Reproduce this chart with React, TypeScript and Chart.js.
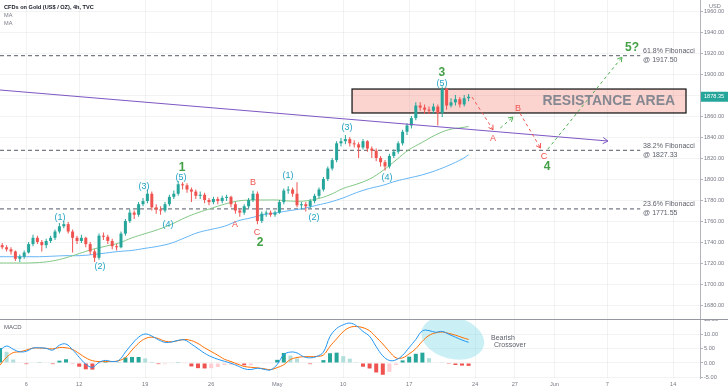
import React, { useEffect, useRef } from 'react';
import { Chart, registerables } from 'chart.js';
Chart.register(...registerables);

// ---------------- DATA ----------------
const TITLE = 'CFDs on Gold (US$ / OZ), 4h, TVC';

// 8h candles, first at Apr 1 (trading-day index 0)
const opens = [1737,1735,1733,1731,1724,1726,1730,1738,1744,1740,
 1737,1741,1744,1750,1755,1757,1750,1744,1741,1744,
 1738,1731,1725,1746,1745,1741,1736,1735,1748,1760,
 1768,1766,1776,1779,1786,1773,1771,1770,1776,1783,
 1786,1795,1794,1790,1788,1784,1785,1780,1778,1781,
 1779,1782,1783,1776,1770,1768,1774,1780,1786,1760,
 1767,1768,1766,1768,1778,1789,1790,1786,1775,1776,
 1774,1779,1784,1790,1800,1810,1818,1834,1836,1838,
 1834,1833,1830,1836,1829,1827,1820,1816,1812,1822,
 1826,1834,1845,1851,1858,1870,1868,1866,1865,1869,
 1863,1886,1870,1873,1876,1871,1877];
const closes = [1735,1733,1731,1724,1726,1730,1738,1744,1740,1737,
 1741,1744,1750,1755,1757,1750,1744,1741,1744,1738,
 1731,1725,1746,1745,1741,1736,1735,1748,1760,1768,
 1766,1776,1779,1786,1773,1771,1770,1776,1783,1786,
 1795,1794,1790,1788,1784,1785,1780,1778,1781,1779,
 1782,1783,1776,1770,1768,1774,1780,1786,1760,1767,
 1768,1766,1768,1778,1789,1790,1786,1775,1776,1774,
 1779,1784,1790,1800,1810,1818,1834,1836,1838,1834,
 1833,1830,1836,1829,1827,1820,1816,1812,1822,1826,
 1834,1845,1851,1858,1870,1868,1866,1865,1869,1863,
 1886,1870,1873,1876,1871,1877,1878.35];
const highs = [1739,1737,1735,1732,1728,1732,1740,1747,1746,1742,
 1743,1746,1752,1758,1760,1759,1752,1746,1747,1745,
 1740,1733,1748,1749,1747,1743,1738,1750,1762,1771,
 1770,1778,1782,1790,1788,1776,1774,1778,1785,1789,
 1798,1797,1796,1792,1790,1788,1787,1782,1783,1783,
 1784,1785,1784,1778,1772,1776,1782,1789,1788,1769,
 1770,1770,1770,1780,1791,1793,1792,1797,1778,1778,
 1781,1786,1792,1802,1812,1820,1836,1839,1842,1840,
 1837,1835,1838,1837,1831,1829,1822,1818,1824,1828,
 1836,1847,1853,1860,1873,1873,1871,1869,1872,1871,
 1888,1887,1877,1880,1878,1880,1881];
const lows = [1733,1731,1728,1722,1721,1724,1729,1736,1738,1731,
 1734,1739,1742,1748,1753,1748,1730,1738,1739,1735,
 1728,1721,1723,1742,1738,1733,1732,1734,1746,1758,
 1762,1764,1774,1777,1770,1767,1766,1768,1774,1781,
 1784,1790,1787,1778,1781,1781,1777,1775,1776,1776,
 1777,1779,1773,1767,1764,1766,1772,1778,1757,1758,
 1764,1764,1764,1767,1776,1786,1783,1773,1771,1769,
 1772,1777,1782,1788,1798,1808,1816,1831,1833,1831,
 1830,1820,1828,1826,1820,1817,1812,1808,1810,1820,
 1824,1832,1842,1848,1856,1865,1862,1862,1862,1851,
 1859,1866,1868,1870,1868,1869,1874];

// moving averages, one value per trading day (+ last half day)
const maFast = [1720,1720,1720,1720.5,1722,1725,1729,1733,1736,1739,
 1744,1748,1752,1757,1763,1768,1772,1776,1779,1780,
 1780,1780,1779,1779,1781,1785,1791,1795,1800,1808,
 1818,1828,1835,1842,1847,1849,1850];
const maSlow = [1726,1726,1726,1726,1726.5,1727,1727,1728,1729.5,1731,
 1732,1734,1736,1739,1744,1749,1752,1755,1760,1763,
 1766,1768,1770,1772,1775,1778,1782,1787,1791,1794,
 1798,1801,1804,1808,1813,1819,1823];

// MACD, one value per half trading day
const macdLine = [4.5,5.9,4.8,3.9,4.1,5.2,5.3,5.1,4.5,6.2,
 6.6,4.6,2.0,-0.4,-1.5,0.2,0.9,0.5,0.9,3.8,
 6.6,9.0,10.1,9.4,8.1,7.2,7.3,7.9,8.0,6.6,
 5.0,3.4,2.2,1.3,0.6,-0.1,-1.0,-2.0,-2.3,-1.8,
 -2.2,-2.4,-0.5,2.9,3.8,3.5,2.2,1.8,2.3,3.8,
 9.2,12.0,13.3,13.9,13.0,11.0,9.3,5.7,2.5,0.9,
 1.1,2.7,5.4,8.2,11.2,11.3,10.7,11.0,10.0,9.0,
 8.0,7.2];
const signalLine = [-0.7,2.0,3.6,3.9,4.5,5.2,5.2,5.1,4.9,5.4,
 5.3,4.7,3.3,1.8,0.8,0.5,0.5,0.5,0.8,1.9,
 4.5,6.9,8.5,9.0,8.5,7.6,7.4,7.8,8.2,7.8,
 6.8,5.3,4.0,2.7,1.3,0.5,-0.4,-1.2,-1.5,-1.7,
 -2.0,-2.3,-1.6,-0.6,1.2,1.9,2.2,2.2,2.3,2.8,
 5.8,8.4,10.9,12.4,12.7,12.3,11.2,9.0,6.6,4.0,
 1.8,1.8,3.2,5.0,7.6,9.6,10.5,10.8,10.3,9.7,
 8.9,8.2];

const priceTicks = [1680,1700,1720,1740,1760,1780,1800,1820,1840,1860,1880,1900,1920,1940,1960];
const macdTicks = [-5,0,5,10,15];
const dateTickDays = [2,6,11,16,21,26,31,36,39,42,46,51];
const dateTickLabels = ['6','12','19','26','May','10','17','24','27','Jun','7','14'];

const fibLevels = [1917.5, 1827.33, 1771.55];
const fibNames = ['61.8% Fibonacci','38.2% Fibonacci','23.6% Fibonacci'];
const fibValueLabels = ['@ 1917.50','@ 1827.33','@ 1771.55'];
const lastPrice = 1878.35;

const resistanceDays = [26.67, 51.97];
const resistancePrices = [1862.9, 1885.7];
const resistanceTextPos = [46.12, 1874.3];
const trendDays = [0, 46.06];
const trendPrices = [1884.8, 1836.2];

const minorLabels = ['(1)','(2)','(3)','(4)','(5)','(1)','(2)','(3)','(4)','(5)'];
const minorDays = [4.55,7.58,10.91,12.73,13.71,21.82,23.79,26.29,29.32,33.48];
const minorPrices = [1762.9,1716.2,1793.3,1756.2,1801,1802.9,1763.8,1848.6,1801.9,1891.4];
const majorLabels = ['1','2','3','4','5?'];
const majorDays = [13.79,19.7,33.48,41.44,47.88];
const majorPrices = [1810.5,1739,1901,1811.4,1924.8];
const abcLabels = ['A','B','C','A','B','C'];
const abcDays = [17.8,19.17,19.47,37.35,39.24,41.21];
const abcPrices = [1757.1,1796.2,1749.5,1838.1,1867.6,1821];

const projRedA = [[35.76,1878],[37.35,1847]];
const projGreenB = [[37.9,1848.5],[38.86,1859]];
const projRedC = [[39.4,1862.5],[40.95,1829.5]];
const projGreen5 = [[41.5,1828.5],[47.12,1916]];

const ellipseCenter = [34.3, 8.7];
const ellipseRadius = [2.42, 7.3];

// ---------------- STYLE ----------------
const FONT = '"Liberation Sans", Arial, sans-serif';
const UP = '#26a69a';
const DOWN = '#ef5350';
const GRID = 'rgba(42,46,57,0.06)';
const AXIS = '#b2b5be';
const TXT = '#787b86';
const X_MAX = 700 / 13.2;

const barDays = closes.map((_, i) => (i + 0.5) / 3);
const maDays = maFast.map((_, i) => (i < 36 ? i : 35.5));
const macdDays = macdLine.map((_, i) => i * 0.5);
const hist = macdLine.map((m, i) => +(m - signalLine[i]).toFixed(2));
const histColors = hist.map((h, i) => {
  const prev = i > 0 ? hist[i - 1] : h;
  if (h >= 0) return h >= prev ? '#26a69a' : '#b2dfdb';
  return h < prev ? '#ef5350' : '#ffcdd2';
});
const candleColors = closes.map((c, i) => (c >= opens[i] ? UP : DOWN));

function text(ctx: CanvasRenderingContext2D, s: string, x: number, y: number, font: string, color: string, align: CanvasTextAlign = 'center') {
  ctx.save();
  ctx.font = font;
  ctx.fillStyle = color;
  ctx.textAlign = align;
  ctx.textBaseline = 'middle';
  ctx.fillText(s, x, y);
  ctx.restore();
}

function chevron(ctx: CanvasRenderingContext2D, x1: number, y1: number, x2: number, y2: number, size: number, color: string) {
  const a = Math.atan2(y2 - y1, x2 - x1);
  ctx.save();
  ctx.strokeStyle = color;
  ctx.lineWidth = 1;
  ctx.setLineDash([]);
  ctx.beginPath();
  ctx.moveTo(x2 - size * Math.cos(a - 0.55), y2 - size * Math.sin(a - 0.55));
  ctx.lineTo(x2, y2);
  ctx.lineTo(x2 - size * Math.cos(a + 0.55), y2 - size * Math.sin(a + 0.55));
  ctx.stroke();
  ctx.restore();
}

const lineDs = (pts: number[][], color: string, dash: number[], order: number, width = 1) => ({
  type: 'line' as const,
  data: pts.map(p => ({ x: p[0], y: p[1] })),
  borderColor: color,
  borderWidth: width,
  borderDash: dash,
  pointRadius: 0,
  fill: false,
  order,
});

export default function App() {
  const mainRef = useRef<HTMLCanvasElement>(null);
  const macdRef = useRef<HTMLCanvasElement>(null);

  useEffect(() => {
    Chart.defaults.font.family = FONT;

    const mainPlugin = {
      id: 'mainDeco',
      beforeDatasetsDraw(chart: any) {
        const { ctx, scales: { x, y } } = chart;
        const x0 = x.getPixelForValue(resistanceDays[0]);
        const x1 = x.getPixelForValue(resistanceDays[1]);
        const y0 = y.getPixelForValue(resistancePrices[1]);
        const y1 = y.getPixelForValue(resistancePrices[0]);
        ctx.save();
        ctx.fillStyle = 'rgba(242,120,110,0.32)';
        ctx.fillRect(x0, y0, x1 - x0, y1 - y0);
        ctx.strokeStyle = '#1e1e1e';
        ctx.lineWidth = 1.3;
        ctx.strokeRect(x0, y0, x1 - x0, y1 - y0);
        ctx.restore();
      },
      afterDatasetsDraw(chart: any) {
        const { ctx, scales: { x, y } } = chart;
        const P = (d: number, p: number) => [x.getPixelForValue(d), y.getPixelForValue(p)];
        const [rx, ry] = P(resistanceTextPos[0], resistanceTextPos[1]);
        text(ctx, 'RESISTANCE AREA', rx, ry, `bold 14px ${FONT}`, '#858891');
        fibLevels.forEach((lv, i) => {
          const [fx, fy] = P(48.72, lv);
          text(ctx, fibNames[i], fx, fy - 4.5, `7px ${FONT}`, '#5d606b', 'left');
          text(ctx, fibValueLabels[i], fx, fy + 4.5, `7px ${FONT}`, '#5d606b', 'left');
        });
        minorLabels.forEach((l, i) => {
          const [lx, ly] = P(minorDays[i], minorPrices[i]);
          text(ctx, l, lx, ly, `9px ${FONT}`, '#24a3c3');
        });
        abcLabels.forEach((l, i) => {
          const [lx, ly] = P(abcDays[i], abcPrices[i]);
          text(ctx, l, lx, ly, `9px ${FONT}`, '#ef5350');
        });
        majorLabels.forEach((l, i) => {
          const [lx, ly] = P(majorDays[i], majorPrices[i]);
          text(ctx, l, lx, ly, `bold 12px ${FONT}`, '#43a047');
        });
        const arr = (pts: number[][], color: string, size: number) => {
          const a = P(pts[0][0], pts[0][1]);
          const b = P(pts[1][0], pts[1][1]);
          chevron(ctx, a[0], a[1], b[0], b[1], size, color);
        };
        arr(projRedA, '#ef5350', 5);
        arr(projGreenB, '#4caf50', 5);
        arr(projRedC, '#ef5350', 5);
        arr(projGreen5, '#4caf50', 5);
        arr([[trendDays[0], trendPrices[0]], [trendDays[1], trendPrices[1]]], '#7e57c2', 6);
      },
      afterDraw(chart: any) {
        const { ctx, scales: { y } } = chart;
        const ly = y.getPixelForValue(lastPrice);
        ctx.save();
        ctx.fillStyle = '#26a69a';
        ctx.fillRect(701, ly - 5, 27, 10);
        ctx.restore();
        text(ctx, lastPrice.toFixed(2), 704, ly, `5.6px ${FONT}`, '#ffffff', 'left');
        text(ctx, 'USD', 709, 6, `5.6px ${FONT}`, TXT, 'left');
        text(ctx, TITLE, 4, 7, `bold 5.6px ${FONT}`, '#131722', 'left');
        text(ctx, 'MA', 4, 15, `5.6px ${FONT}`, TXT, 'left');
        text(ctx, 'MA', 4, 23, `5.6px ${FONT}`, TXT, 'left');
      },
    };

    const c1 = new Chart(mainRef.current as HTMLCanvasElement, {
      type: 'bar',
      data: {
        datasets: [
          {
            type: 'bar',
            data: barDays.map((d, i) => ({ x: d, y: [opens[i], closes[i]] })) as any,
            backgroundColor: candleColors,
            grouped: false,
            maxBarThickness: 3,
            minBarLength: 1,
            order: 4,
          } as any,
          {
            type: 'bar',
            data: barDays.map((d, i) => ({ x: d, y: [lows[i], highs[i]] })) as any,
            backgroundColor: candleColors,
            grouped: false,
            maxBarThickness: 1,
            order: 5,
          } as any,
          { ...lineDs(maDays.map((d, i) => [d, maFast[i]]), '#81c784', [], 6), tension: 0.4 },
          { ...lineDs(maDays.map((d, i) => [d, maSlow[i]]), '#64b5f6', [], 6), tension: 0.4 },
          lineDs([[trendDays[0], trendPrices[0]], [trendDays[1], trendPrices[1]]], '#7e57c2', [], 3, 1.1),
          ...fibLevels.map(lv => lineDs([[0, lv], [48.5, lv]], '#787b86', [4, 3], 9, 1.2)),
          lineDs(projRedA, '#ef5350', [3, 3], 2),
          lineDs(projGreenB, '#4caf50', [3, 3], 2),
          lineDs(projRedC, '#ef5350', [3, 3], 2),
          lineDs(projGreen5, '#4caf50', [3, 3], 2),
        ] as any,
      },
      options: {
        responsive: false,
        animation: false,
        devicePixelRatio: 1,
        events: [],
        layout: { padding: 0 },
        plugins: { legend: { display: false }, tooltip: { enabled: false } },
        scales: {
          x: {
            type: 'linear', min: 0, max: X_MAX, offset: false,
            afterBuildTicks: (s: any) => { s.ticks = dateTickDays.map(v => ({ value: v })); },
            ticks: { display: false },
            grid: { color: GRID, drawTicks: false, offset: false },
            border: { display: false },
            afterFit: (s: any) => { s.height = 0; s.paddingLeft = 0; s.paddingRight = 0; },
          },
          y: {
            type: 'linear', position: 'right', min: 1666.67, max: 1970.5,
            afterBuildTicks: (s: any) => { s.ticks = priceTicks.map(v => ({ value: v })); },
            ticks: { callback: (v: any) => Number(v).toFixed(2), font: { size: 5.6, family: FONT }, color: TXT, padding: 1 },
            grid: { color: GRID, tickLength: 3, tickColor: AXIS },
            border: { color: AXIS },
            afterFit: (s: any) => { s.width = 28; s.paddingTop = 0; s.paddingBottom = 0; },
          },
        },
      } as any,
      plugins: [mainPlugin],
    });

    const macdPlugin = {
      id: 'macdDeco',
      beforeDatasetsDraw(chart: any) {
        const { ctx, scales: { x, y }, chartArea } = chart;
        const cx = x.getPixelForValue(ellipseCenter[0]);
        const cy = y.getPixelForValue(ellipseCenter[1]);
        const rxp = x.getPixelForValue(ellipseCenter[0] + ellipseRadius[0]) - cx;
        const ryp = y.getPixelForValue(ellipseCenter[1] - ellipseRadius[1]) - cy;
        ctx.save();
        ctx.beginPath();
        ctx.rect(chartArea.left, chartArea.top, chartArea.right - chartArea.left, chartArea.bottom - chartArea.top);
        ctx.clip();
        ctx.beginPath();
        ctx.ellipse(cx, cy, rxp, ryp, 0.25, 0, Math.PI * 2);
        ctx.fillStyle = 'rgba(128,216,232,0.42)';
        ctx.fill();
        ctx.restore();
      },
      afterDatasetsDraw(chart: any) {
        const { ctx, scales: { x, y } } = chart;
        text(ctx, 'Bearish', x.getPixelForValue(37.2), y.getPixelForValue(8.7), `7px ${FONT}`, '#5d606b', 'left');
        text(ctx, 'Crossover', x.getPixelForValue(37.42), y.getPixelForValue(6.2), `7px ${FONT}`, '#5d606b', 'left');
      },
      afterDraw(chart: any) {
        const { ctx } = chart;
        ctx.save();
        ctx.strokeStyle = '#9598a1';
        ctx.lineWidth = 1;
        ctx.beginPath();
        ctx.moveTo(0, 0.5);
        ctx.lineTo(728, 0.5);
        ctx.stroke();
        ctx.restore();
        text(ctx, 'MACD', 4, 8, `6px ${FONT}`, '#5d606b', 'left');
      },
    };

    const c2 = new Chart(macdRef.current as HTMLCanvasElement, {
      type: 'bar',
      data: {
        datasets: [
          { type: 'line', data: macdDays.map((d, i) => ({ x: d, y: macdLine[i] })), borderColor: '#2196f3', borderWidth: 1, pointRadius: 0, tension: 0.4, order: 1 },
          { type: 'line', data: macdDays.map((d, i) => ({ x: d, y: signalLine[i] })), borderColor: '#ff6d00', borderWidth: 1, pointRadius: 0, tension: 0.4, order: 2 },
          { type: 'bar', data: macdDays.map((d, i) => ({ x: d, y: hist[i] })), backgroundColor: histColors, grouped: false, maxBarThickness: 4, order: 3 },
        ] as any,
      },
      options: {
        responsive: false,
        animation: false,
        devicePixelRatio: 1,
        events: [],
        layout: { padding: 0 },
        plugins: { legend: { display: false }, tooltip: { enabled: false } },
        scales: {
          x: {
            type: 'linear', min: 0, max: X_MAX, offset: false,
            afterBuildTicks: (s: any) => { s.ticks = dateTickDays.map(v => ({ value: v })); },
            ticks: {
              autoSkip: false, maxRotation: 0, padding: 3,
              callback: (v: any) => dateTickLabels[dateTickDays.indexOf(Number(v))] ?? '',
              font: { size: 5.6, family: FONT }, color: TXT,
            },
            grid: { color: GRID, drawTicks: false, offset: false },
            border: { display: false },
            afterFit: (s: any) => { s.height = 13; s.paddingLeft = 0; s.paddingRight = 0; },
          },
          y: {
            type: 'linear', position: 'right', min: -5.23, max: 15.33,
            afterBuildTicks: (s: any) => { s.ticks = macdTicks.map(v => ({ value: v })); },
            ticks: { callback: (v: any) => Number(v).toFixed(2), font: { size: 5.6, family: FONT }, color: TXT, padding: 1 },
            grid: { color: GRID, tickLength: 3, tickColor: AXIS },
            border: { color: AXIS },
            afterFit: (s: any) => { s.width = 28; s.paddingTop = 0; s.paddingBottom = 0; },
          },
        },
      } as any,
      plugins: [macdPlugin],
    });

    return () => { c1.destroy(); c2.destroy(); };
  }, []);

  return (
    <div style={{ position: 'fixed', left: 0, top: 0, width: 728, height: 391, background: '#ffffff' }}>
      <canvas ref={mainRef} width={728} height={319} style={{ position: 'absolute', left: 0, top: 0, width: 728, height: 319 }} />
      <canvas ref={macdRef} width={728} height={72} style={{ position: 'absolute', left: 0, top: 319, width: 728, height: 72 }} />
    </div>
  );
}
